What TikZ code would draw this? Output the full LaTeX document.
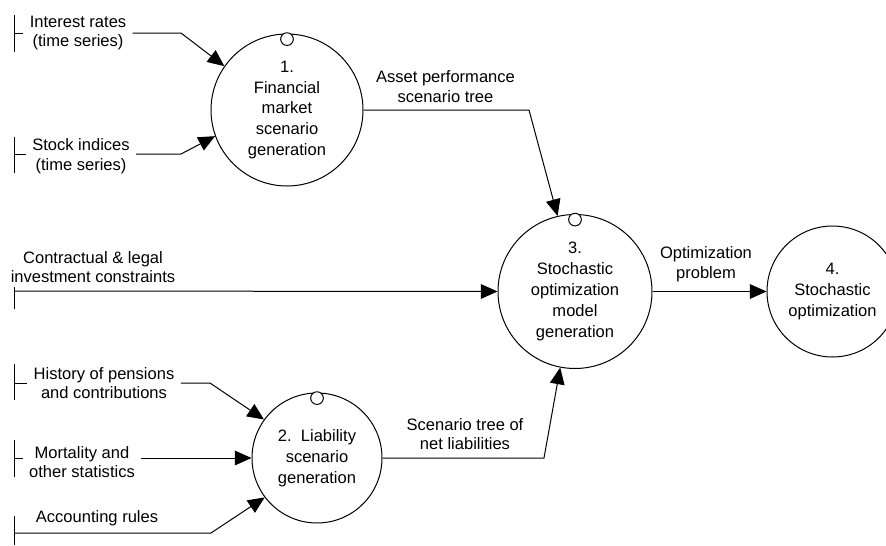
\documentclass[tikz,border=0pt]{standalone}
\usepackage{fontspec}
\setmainfont{Liberation Sans}
\usetikzlibrary{arrows.meta}
\begin{document}
\begin{tikzpicture}[x=0.75pt,y=-0.75pt,
  line width=0.75pt,
  proc/.style={draw,circle,inner sep=0pt,align=center,
    font=\fontsize{12.4}{15.6}\selectfont},
  lbl/.style={align=center,inner sep=0pt,inner xsep=4.5pt,
    font=\fontsize{12.4}{14.8}\selectfont},
  flow/.style={-{Triangle[length=12.5pt,width=11pt]}},
  tag/.style={draw,fill=white,circle,inner sep=0pt,minimum size=9.5pt}
]
\clip (0,0) rectangle (886,546);

% processes
\node[proc,minimum size=114pt] (c1) at (287,110)
  {1.\\Financial\\market\\scenario\\generation};
\node[proc,minimum size=97.5pt] (c2) at (317,458)
  {2.\ \ Liability\\scenario\\generation};
\node[proc,minimum size=115.5pt] (c3) at (575,291.5)
  {3.\\Stochastic\\optimization\\model\\generation};
\node[proc,minimum size=98.25pt] (c4) at (832.5,291.5)
  {4.\\Stochastic\\optimization};

% small markers on the process tops
\node[tag] (t1) at ([yshift=-4.2pt]c1.north) {};
\node[tag] (t2) at ([yshift=-4.2pt]c2.north) {};
\node[tag] (t3) at ([yshift=-4.2pt]c3.north) {};

% external sources: bar ends
\draw (14,15) -- (14,52);
\draw (14,137) -- (14,173);
\draw (14,287) -- (14,309);
\draw (14,364) -- (14,400);
\draw (14,440) -- (14,477);
\draw (14,516) -- (14,545);

\coordinate (e1) at (14,33);
\coordinate (e2) at (14,154);
\coordinate (e3) at (14,291);
\coordinate (e4) at (14,383);
\coordinate (e5) at (14,458);
\coordinate (e6) at (14,533);

\node[lbl] (ir) at (78,33) {Interest rates\\(time series)};
\node[lbl] (si) at (81,156) {Stock indices\\(time series)};
\node[lbl] (cl) at (93,267) {Contractual \& legal\\investment constraints};
\node[lbl] (hp) at (104,383) {History of pensions\\and contributions};
\node[lbl] (mo) at (82,462) {Mortality and\\other statistics};
\node[lbl] (ac) at (97,518) {Accounting rules};

% data flow labels
\node[lbl] (la) at (445.5,86.5) {Asset performance\\scenario tree};
\node[lbl] (lo) at (706,264) {Optimization\\problem};
\node[lbl] (ls) at (465,434) {Scenario tree of\\net liabilities};

% inputs to process 1
\draw (e1) -- (e1 -| ir.west);
\draw[flow] (e1 -| ir.east) -- (181,33) -- (c1.145);
\draw (e2) -- (e2 -| si.west);
\draw[flow] (e2 -| si.east) -- (181,154) -- (c1.200.6);

% constraints straight into process 3
\draw[flow] (e3) -- (c3.west);

% inputs to process 2
\draw (e4) -- (e4 -| hp.west);
\draw[flow] (e4 -| hp.east) -- (210,383) -- (c2.144.9);
\draw (e5) -- (e5 -| mo.west);
\draw[flow] (e5 -| mo.east) -- (c2.west);
\draw[flow] (e6) -- (211,533) -- (c2.217);

% flows between processes
\draw[flow] (c1.east) -- (529,110) -- (c3.103.5);
\draw[flow] (c2.east) -- (544,458) -- (c3.259.2);
\draw[flow] (c3.east) -- (c4.west);
\end{tikzpicture}
\end{document}
